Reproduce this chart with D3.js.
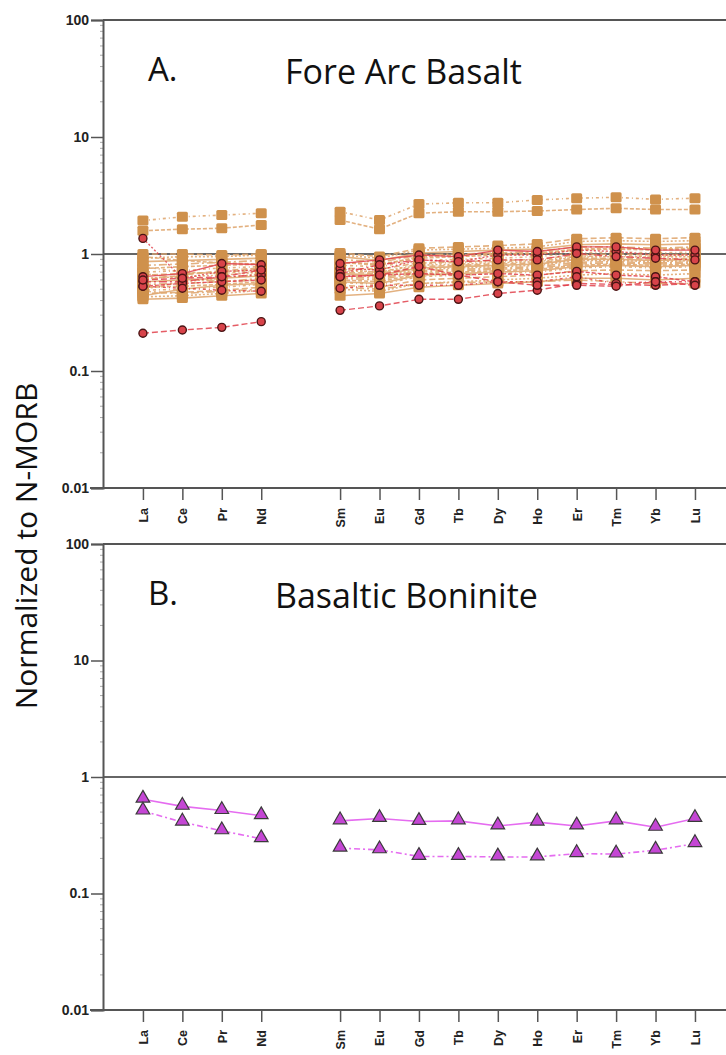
<!DOCTYPE html>
<html>
<head>
<meta charset="utf-8">
<script src="https://cdn.jsdelivr.net/npm/d3@7"></script>
<style>
  body { margin: 0; background: #fff; }
  svg { display: block; }
  .tick text { font-family: Arial, "Liberation Sans", sans-serif; font-weight: bold; }
</style>
</head>
<body>
<svg id="chart" width="726" height="1055"></svg>
<script>
// REE order (Pm not analysed, left as a gap on the axis)
var elements = ["La","Ce","Pr","Nd","Sm","Eu","Gd","Tb","Dy","Ho","Er","Tm","Yb","Lu"];
var yTicks = [0.01, 0.1, 1, 10, 100];
var yTickLabels = ["0.01", "0.1", "1", "10", "100"];

// A. Fore arc basalt - tan squares
var fabUpperDash  = [1.93,2.08,2.15,2.23, 2.30,1.95,2.67,2.74,2.74,2.90,3.00,3.05,2.93,3.00];
var fabUpperSolid = [1.58,1.63,1.66,1.77, 1.95,1.63,2.23,2.30,2.30,2.33,2.40,2.46,2.40,2.40];
var fab01 = [1.00,1.00,0.98,1.00, 1.02,0.95,1.12,1.15,1.18,1.22,1.35,1.38,1.35,1.38];
var fab02 = [0.92,0.95,0.95,0.98, 0.98,0.92,1.08,1.10,1.12,1.15,1.28,1.30,1.28,1.30];
var fab03 = [0.86,0.88,0.90,0.92, 0.95,0.88,1.02,1.05,1.08,1.10,1.20,1.22,1.20,1.22];
var fab04 = [0.80,0.82,0.85,0.88, 0.90,0.85,0.98,1.00,1.02,1.05,1.15,1.15,1.12,1.15];
var fab05 = [0.75,0.78,0.80,0.82, 0.85,0.82,0.92,0.95,0.98,1.00,1.08,1.10,1.08,1.10];
var fab06 = [0.70,0.72,0.76,0.78, 0.80,0.78,0.88,0.90,0.92,0.95,1.02,1.04,1.02,1.04];
var fab07 = [0.66,0.68,0.70,0.74, 0.76,0.74,0.84,0.86,0.88,0.90,0.98,1.00,0.98,1.00];
var fab08 = [0.62,0.64,0.66,0.70, 0.72,0.70,0.80,0.82,0.84,0.86,0.94,0.95,0.94,0.95];
var fab09 = [0.58,0.60,0.62,0.65, 0.68,0.66,0.76,0.78,0.80,0.82,0.90,0.90,0.88,0.90];
var fab10 = [0.55,0.56,0.58,0.62, 0.64,0.62,0.72,0.74,0.76,0.78,0.85,0.86,0.84,0.86];
var fab11 = [0.52,0.53,0.55,0.58, 0.60,0.58,0.68,0.70,0.72,0.74,0.80,0.82,0.80,0.82];
var fab12 = [0.49,0.50,0.52,0.55, 0.57,0.55,0.64,0.66,0.68,0.70,0.76,0.78,0.76,0.78];
var fab13 = [0.46,0.47,0.49,0.52, 0.54,0.52,0.60,0.62,0.64,0.66,0.72,0.73,0.72,0.73];
var fab14 = [0.43,0.44,0.46,0.49, 0.50,0.48,0.56,0.58,0.60,0.62,0.66,0.68,0.66,0.68];
var fab15 = [0.41,0.42,0.44,0.46, 0.44,0.46,0.52,0.54,0.56,0.58,0.62,0.62,0.60,0.62];
var fab16 = [0.68,0.62,0.58,0.60, 0.62,0.60,0.70,0.72,0.74,0.76,0.82,0.84,0.82,0.84];
var fab17 = [0.95,0.88,0.84,0.82, 0.85,0.80,0.95,0.98,1.00,1.02,1.10,1.12,1.10,1.12];
var fab18 = [0.78,0.70,0.68,0.72, 0.74,0.70,0.82,0.85,0.86,0.88,0.95,0.97,0.95,0.97];
var fab19 = [0.60,0.66,0.72,0.76, 0.70,0.68,0.78,0.80,0.82,0.84,0.92,0.92,0.90,0.92];
var fab20 = [0.50,0.58,0.62,0.68, 0.66,0.64,0.74,0.76,0.78,0.80,0.88,0.88,0.86,0.88];
var fab21 = [0.44,0.50,0.54,0.56, 0.58,0.56,0.66,0.68,0.70,0.72,0.78,0.80,0.78,0.80];
var fab22 = [0.48,0.46,0.48,0.50, 0.52,0.50,0.56,0.57,0.58,0.58,0.60,0.58,0.56,0.56];

// A. Fore arc basalt - red circles
var fabRed1 = [0.21,0.224,0.236,0.264, 0.33,0.36,0.41,0.41,0.46,0.49,0.56,0.55,0.54,0.56];
var fabRed2 = [1.36,0.62,0.71,0.73, 0.75,0.73,0.89,0.86,0.98,0.98,1.08,1.05,0.98,0.98];
var fabRed3 = [0.64,0.68,0.83,0.81, 0.83,0.89,0.98,0.95,1.08,1.05,1.15,1.15,1.08,1.08];
var fabRed4 = [0.58,0.58,0.64,0.66, 0.68,0.81,0.89,0.86,0.89,0.89,1.01,0.95,0.92,0.89];
var fabRed5 = [0.53,0.56,0.58,0.60, 0.64,0.66,0.68,0.66,0.68,0.66,0.71,0.66,0.64,0.58];
var fabRed6 = [0.53,0.51,0.49,0.48, 0.51,0.54,0.54,0.54,0.58,0.58,0.64,0.56,0.58,0.58];
var fabRed7 = [0.60,0.62,0.64,0.73, 0.64,0.66,0.78,0.66,0.58,0.54,0.54,0.53,0.58,0.54];

// B. Basaltic boninite - magenta triangles
var bonSolid = [0.645,0.56,0.515,0.465, 0.42,0.44,0.415,0.42,0.38,0.41,0.38,0.42,0.37,0.44];
var bonDash  = [0.51,0.41,0.345,0.295, 0.245,0.237,0.208,0.208,0.206,0.206,0.22,0.218,0.235,0.268];

var tanSeries = [fab01,fab02,fab03,fab04,fab05,fab06,fab07,fab08,fab09,fab10,fab11,
                 fab12,fab13,fab14,fab15,fab16,fab17,fab18,fab19,fab20,fab21,fab22,
                 fabUpperSolid,fabUpperDash];
var redSeries = [fabRed1,fabRed2,fabRed3,fabRed4,fabRed5,fabRed6,fabRed7];
var dashes = ["6,3","2,2","", "8,3,2,3","4,2","3,3,1,3"];

var svg = d3.select("#chart");
var width = 726;
var font = "'Open Sans', Lato, sans-serif";

// position of element i on the axis; Pm (slot 4) is skipped
function slot(i) { return i < 4 ? i : i + 1; }

var x = d3.scaleLinear().domain([-1, 15]).range([103.5, 734.4]);

function panel(top, bottom, label, title, titleX) {
    var y = d3.scaleLog().domain([0.01, 100]).range([bottom, top]);
    var g = svg.append("g");

    // frame top and reference line at 1
    g.append("line").attr("x1", 103).attr("x2", width).attr("y1", top).attr("y2", top)
        .attr("stroke", "#555").attr("stroke-width", 2);
    g.append("line").attr("x1", 103).attr("x2", width).attr("y1", y(1)).attr("y2", y(1))
        .attr("stroke", "#666").attr("stroke-width", 1.8);

    // minor ticks
    var minor = [];
    [0.01, 0.1, 1, 10].forEach(function (d) {
        for (var k = 2; k < 10; k++) minor.push(d * k);
    });
    g.selectAll(".minor").data(minor).enter().append("line")
        .attr("x1", 100).attr("x2", 103)
        .attr("y1", function (d) { return y(d); }).attr("y2", function (d) { return y(d); })
        .attr("stroke", "#aaa").attr("stroke-width", 1);

    var yAxis = g.append("g").attr("transform", "translate(103,0)")
        .call(d3.axisLeft(y).tickValues(yTicks).tickSize(12).tickPadding(2)
            .tickFormat(function (d, i) { return yTickLabels[i]; }));
    yAxis.select(".domain").attr("stroke", "#555").attr("stroke-width", 2);
    yAxis.selectAll(".tick line").attr("stroke", "#555").attr("stroke-width", 1.5);
    yAxis.selectAll(".tick text").attr("font-size", 14).attr("fill", "#222");

    var xAxis = g.append("g").attr("transform", "translate(0," + bottom + ")")
        .call(d3.axisBottom(x).tickValues(elements.map(function (e, i) { return slot(i); }))
            .tickSize(12).tickFormat(function (d, i) { return elements[i]; }));
    xAxis.select(".domain").attr("stroke", "#555").attr("stroke-width", 2)
        .attr("d", "M90,0H" + width);
    xAxis.selectAll(".tick line").attr("stroke", "#555").attr("stroke-width", 1.5);
    xAxis.selectAll(".tick text").attr("font-size", 12.5).attr("fill", "#222")
        .attr("text-anchor", "end").attr("dy", "0.35em").attr("x", 0).attr("y", 0)
        .attr("transform", "translate(0,20) rotate(-90)");

    svg.append("text").attr("x", 148).attr("y", top + 61)
        .attr("font-family", font).attr("font-size", 33)
        .attr("fill", "#111").text(label);
    svg.append("text").attr("x", titleX).attr("y", top + 64)
        .attr("font-family", font).attr("font-size", 34)
        .attr("fill", "#111").text(title);
    return y;
}

var yA = panel(20, 488, "A.", "Fore Arc Basalt", 285);
var yB = panel(544, 1010, "B.", "Basaltic Boninite", 275);

function segments(vals) {
    return [vals.slice(0, 4).map(function (v, i) { return [slot(i), v]; }),
            vals.slice(4).map(function (v, i) { return [slot(i + 4), v]; })];
}

function drawLines(g, series, y, color, width, opacity) {
    var line = d3.line().x(function (d) { return x(d[0]); }).y(function (d) { return y(d[1]); });
    series.forEach(function (vals, si) {
        segments(vals).forEach(function (seg) {
            g.append("path").attr("d", line(seg)).attr("fill", "none")
                .attr("stroke", color).attr("stroke-width", width)
                .attr("stroke-opacity", opacity)
                .attr("stroke-dasharray", dashes[si % dashes.length]);
        });
    });
}

// Fore arc basalt
var gA = svg.append("g");
drawLines(gA, tanSeries, yA, "#e0a872", 1.6, 0.9);
tanSeries.forEach(function (vals) {
    gA.selectAll(null).data(vals).enter().append("rect")
        .attr("x", function (d, i) { return x(slot(i)) - 5.5; })
        .attr("y", function (d) { return yA(d) - 5; })
        .attr("width", 11).attr("height", 10).attr("rx", 1.5)
        .attr("fill", "#cf914c");
});
drawLines(gA, redSeries, yA, "#e0414b", 1.4, 0.85);
redSeries.forEach(function (vals) {
    gA.selectAll(null).data(vals).enter().append("circle")
        .attr("cx", function (d, i) { return x(slot(i)); })
        .attr("cy", function (d) { return yA(d); })
        .attr("r", 4).attr("fill", "#d8434a")
        .attr("stroke", "#4a1414").attr("stroke-width", 1.4);
});

// Basaltic boninite
var gB = svg.append("g");
var lineB = d3.line().x(function (d) { return x(d[0]); }).y(function (d) { return yB(d[1]); });
[[bonSolid, ""], [bonDash, "6,3,2,3"]].forEach(function (s) {
    segments(s[0]).forEach(function (seg) {
        gB.append("path").attr("d", lineB(seg)).attr("fill", "none")
            .attr("stroke", "#e56cf0").attr("stroke-width", 1.6)
            .attr("stroke-dasharray", s[1]);
    });
    gB.selectAll(null).data(s[0]).enter().append("path")
        .attr("d", d3.symbol().type(d3.symbolTriangle).size(80))
        .attr("transform", function (d, i) {
            return "translate(" + x(slot(i)) + "," + (yB(d) - 1) + ")";
        })
        .attr("fill", "#c446d4").attr("stroke", "#3a3a3a").attr("stroke-width", 1.2);
});

// shared y-axis title
svg.append("text")
    .attr("transform", "translate(37,546) rotate(-90)")
    .attr("text-anchor", "middle")
    .attr("font-family", font).attr("font-size", 30)
    .attr("fill", "#111").text("Normalized to N-MORB");
</script>
</body>
</html>
